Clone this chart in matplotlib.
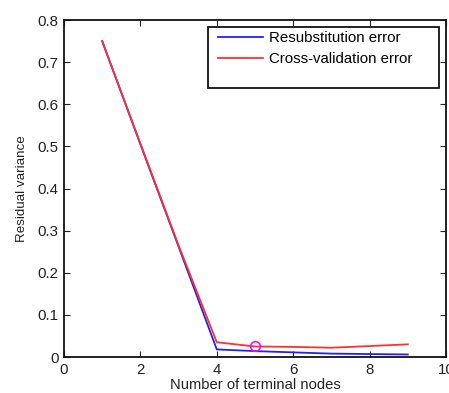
import matplotlib
matplotlib.use("Agg")
import matplotlib.pyplot as plt
from matplotlib.patches import Rectangle

plt.rcParams['font.family'] = ['Liberation Sans', 'DejaVu Sans']

# Tree size vs. error
terminal_nodes = [1, 2, 3, 4, 5, 6, 7, 8, 9]
resub_error = [0.750, 0.505, 0.262, 0.018, 0.014, 0.011, 0.008, 0.007, 0.006]
cv_error = [0.750, 0.507, 0.265, 0.035, 0.025, 0.024, 0.022, 0.026, 0.030]
best_nodes = 5
best_error = 0.025

fig = plt.figure(figsize=(4.49, 3.93), dpi=100)
ax = fig.add_axes([0.1425, 0.0916, 0.8508, 0.8575])

ax.plot(terminal_nodes, resub_error, color='#2020ff', lw=1.3, label='Resubstitution error')
ax.plot(terminal_nodes, cv_error, color='#ff3030', lw=1.3, label='Cross-validation error')
ax.plot([best_nodes], [best_error], 'o', mfc='none', mec='#ff00ff', ms=7, mew=1.1)

ax.set_xlim(0, 10)
ax.set_ylim(0, 0.8)
ax.set_xticks([0, 2, 4, 6, 8, 10])
ax.set_yticks([0, 0.1, 0.2, 0.3, 0.4, 0.5, 0.6, 0.7, 0.8])
ax.set_yticklabels(['0', '0.1', '0.2', '0.3', '0.4', '0.5', '0.6', '0.7', '0.8'])
ax.tick_params(direction='in', top=True, right=True, length=4, width=0.8,
               labelsize=10.8, colors='#222222', pad=4)
for s in ax.spines.values():
    s.set_linewidth(1.3)
    s.set_color('#111111')

ax.set_xlabel('Number of terminal nodes', fontsize=10.6, labelpad=1, color='#222222')
ax.set_ylabel('Residual variance', fontsize=9.6, labelpad=7, color='#222222')

# legend box with extra room below the entries
ax.add_patch(Rectangle((0.377, 0.798), 0.605, 0.181, transform=ax.transAxes,
                       facecolor='white', edgecolor='#111111', lw=1.3, zorder=4))
leg = ax.legend(loc='upper left', bbox_to_anchor=(0.388, 0.985), frameon=False,
                fontsize=10.8, handlelength=3.0, handletextpad=0.4,
                labelspacing=0.45, borderaxespad=0)
leg.set_zorder(5)

fig.savefig('out.png', dpi=100, facecolor='white')
